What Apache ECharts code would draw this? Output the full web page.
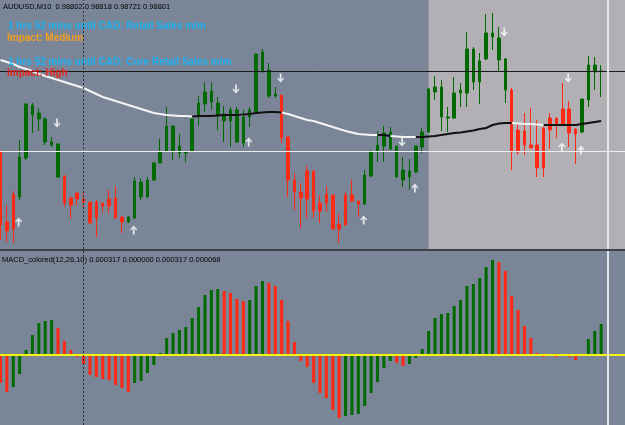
<!DOCTYPE html>
<html>
<head>
<meta charset="utf-8">
<script src="https://cdn.jsdelivr.net/npm/echarts@6/dist/echarts.min.js"></script>
<style>
  html, body { margin: 0; padding: 0; background: #7a8698; }
  #chart { width: 625px; height: 425px; }
</style>
</head>
<body>
<div id="chart"></div>
<script>
// price levels in pixel units above the bottom of the price panel
// each candle: [body low, body high, low, high]
const candles = [
  [25, 98, 10, 100], [19, 28, 8, 45], [21, 56, 7, 59], [53, 93, 50, 110], [92, 146, 90, 147],
  [135, 145, 117, 147], [131, 137, 119, 142], [108, 131, 105, 133], [105, 108, 103, 113], [73, 106, 72, 107],
  [47, 74, 43, 75], [45, 52, 31, 53], [51, 57, 44, 57], [48, 51, 43, 59], [27, 48, 27, 48],
  [32, 48, 13, 50], [44, 47, 38, 47], [44, 51, 37, 60], [32, 52, 31, 64], [28, 33, 17, 33],
  [28, 33, 27, 34], [32, 69, 31, 73], [53, 68, 50, 72], [53, 70, 52, 73], [70, 87, 69, 88],
  [87, 98, 87, 111], [99, 124, 99, 143], [99, 124, 90, 124], [97, 104, 92, 116], [97, 98, 88, 99],
  [99, 131, 99, 131], [133, 147, 124, 154], [146, 158, 138, 168], [148, 159, 140, 168], [135, 147, 120, 153],
  [129, 136, 108, 144], [129, 140, 103, 143], [108, 140, 107, 143], [107, 133, 103, 140], [133, 140, 123, 143],
  [138, 196, 138, 196], [178, 198, 178, 201], [154, 180, 152, 187], [154, 156, 152, 163], [112, 155, 107, 155],
  [70, 113, 53, 114], [58, 70, 40, 77], [52, 58, 22, 67], [51, 79, 32, 84], [39, 79, 32, 79],
  [39, 47, 27, 55], [47, 56, 38, 64], [21, 55, 20, 55], [21, 26, 7, 36], [25, 55, 24, 58],
  [49, 55, 48, 70], [46, 49, 33, 49], [46, 75, 45, 80], [74, 98, 73, 100], [98, 105, 88, 119],
  [104, 117, 88, 124], [101, 118, 100, 123], [73, 104, 72, 104], [70, 80, 63, 93], [73, 79, 60, 91],
  [78, 104, 77, 104], [103, 118, 97, 122], [118, 161, 117, 162], [158, 163, 150, 174], [133, 163, 119, 170],
  [132, 133, 118, 143], [132, 157, 131, 173], [157, 160, 143, 167], [157, 201, 143, 218], [168, 201, 160, 203],
  [168, 189, 146, 197], [191, 217, 190, 236], [213, 217, 200, 237], [190, 212, 178, 223], [160, 191, 147, 192],
  [98, 160, 80, 162], [98, 120, 95, 127], [105, 119, 95, 137], [102, 105, 102, 142], [82, 105, 73, 130],
  [82, 122, 73, 123], [120, 132, 101, 137], [125, 132, 112, 132], [125, 141, 125, 167], [117, 141, 103, 149],
  [116, 121, 86, 121], [118, 151, 117, 151], [150, 185, 143, 194], [178, 185, 160, 193], [179, 179, 153, 185]
];
// g = green, r = red
const candleColor = 'rrrgggggggrrrrrrrrrrggggggggggggggggggggggggrrrrrrrrrrrrrgggggggggggggggggggggggrrrrrrrrrrrgggg';

const maLevel = [
  190, 188, 186, 183, 181, 179, 176, 174, 172, 170,
  168, 166, 164, 162, 159, 156, 153, 151, 149, 147,
  145, 143, 141, 139, 137, 136, 135, 134.5, 134, 134,
  133.5, 134, 134, 134, 134.5, 135, 135, 135, 135.5, 136,
  137, 137.5, 138, 138, 137.5, 136, 134, 132, 130, 129,
  127, 125, 123, 121, 119, 117.5, 116, 115.5, 115, 115,
  115, 114, 113.5, 113, 113, 113, 113, 113.5, 114, 115,
  116, 117, 117.5, 118.5, 119.5, 121, 122, 125, 126.5, 127,
  127, 126.5, 126, 126, 125.5, 125, 125, 125, 125, 125,
  125, 126, 127, 128, 129
];
// colour of the segment that ends at each point: w = white, b = black
const maColor = 'wwwwwwwwwwwwwwwwwwwwwwwwwwwwwwwbbbbbbbwbbbbbbwwwwwwwwwwwwwwwbbwwwwbbbbbbbbbbbbbbbwwwwwbbbbwbbbb';

const arrowsUp = [[3, 28], [21, 20], [39, 108], [57, 30], [65, 62], [88, 103], [91, 100]];
const arrowsDown = [[9, 127], [37, 161], [44, 172], [63, 108], [79, 218], [89, 172]];

// MACD histogram, units of 0.00001
const macd = [
  -28, -37, -32, -19, 5, 20, 32, 34, 35, 27,
  14, 5, -2, -9, -20, -22, -24, -25, -30, -33,
  -37, -28, -26, -18, -10, 2, 17, 22, 25, 28,
  37, 48, 60, 65, 66, 64, 62, 56, 54, 55,
  69, 74, 72, 69, 55, 34, 13, -6, -12, -28,
  -38, -43, -55, -63, -61, -60, -59, -51, -38, -27,
  -13, -6, -8, -11, -9, -3, 6, 24, 37, 41,
  42, 49, 55, 69, 71, 77, 88, 95, 93, 84,
  59, 45, 29, 17, 2, -2, -1, -2, 1, -2,
  -5, 1, 16, 24, 31
];
const macdColor = 'rrgggggggrrrrrrrrrrrrggggggggggggggrrrrgggrrrrrrrrrrrrggggggggrrggggggggggggggrrrrrrrrgrgrrgggg';

const bidLevel = 179;
const hLineLevel = 99;
const daySeparator = 13;
const shiftBar = 95;
const sessionStart = 67;
const barCount = 99;
const categories = Array.from({ length: barCount }, (_, i) => String(i));

const titleText = 'AUDUSD,M10  0.98802 0.98818 0.98721 0.98801';
const news1 = '1 hrs 52 mins until CAD: Retail Sales m/m';
const news2 = '1 hrs 52 mins until CAD: Core Retail Sales m/m';
const macdText = 'MACD_colored(12,26,10) 0.000317 0.000000 0.000317 0.000068';

const GREEN = '#006a00';
const RED = '#ff2a14';

const candleData = candles.map((c, i) => {
  const col = candleColor[i] === 'g' ? GREEN : RED;
  return { value: c, itemStyle: { color: col, color0: col, borderColor: col, borderColor0: col } };
});
const maWhite = maLevel.map((v, i) => (maColor[i] === 'w' || maColor[i + 1] === 'w') ? v : null);
const maBlack = maLevel.map((v, i) => (maColor[i] === 'b' || maColor[i + 1] === 'b') ? v : null);
const macdData = macd.map((v, i) => ({ value: v, itemStyle: { color: macdColor[i] === 'g' ? GREEN : RED } }));

const arrowDownPath = 'path://M3,0 L5,0 L5,6 L7,4 L8,5 L4,9 L0,5 L1,4 L3,6 Z';
const arrowUpPath = 'path://M3,9 L5,9 L5,3 L7,5 L8,4 L4,0 L0,4 L1,5 L3,3 Z';

const chart = echarts.init(document.getElementById('chart'));
const vline = (xv, color, type) => ({
  silent: true, symbol: ['none', 'none'], label: { show: false },
  lineStyle: { color: color, width: 1, type: type }, data: [{ xAxis: xv }]
});

const option = {
  animation: false,
  backgroundColor: '#7a8698',
  grid: [
    { left: -2.7, right: -4.9, top: 0, height: 249, outerBoundsMode: 'none', containLabel: false },
    { left: -2.7, right: -4.9, top: 251, height: 174, outerBoundsMode: 'none', containLabel: false }
  ],
  xAxis: [
    { type: 'category', data: categories, gridIndex: 0, show: false },
    { type: 'category', data: categories, gridIndex: 1, show: false }
  ],
  yAxis: [
    { type: 'value', min: 1, max: 250, gridIndex: 0, show: false },
    { type: 'value', min: -70, max: 104, gridIndex: 1, show: false }
  ],
  graphic: [
    { type: 'rect', z: 50, shape: { x: 0, y: 249, width: 625, height: 2 }, style: { fill: '#3d4148' } },
    { type: 'text', z: 60, left: 3, top: 3, style: { text: titleText, fill: '#000', font: '7.5px "Liberation Sans"' } },
    { type: 'text', z: 60, left: 8, top: 21, style: { text: news1, fill: '#1cb2f2', font: 'bold 10px "Liberation Sans"' } },
    { type: 'text', z: 60, left: 7, top: 33, style: { text: 'Impact: Medium', fill: '#f4a01c', font: 'bold 10px "Liberation Sans"' } },
    { type: 'text', z: 60, left: 8, top: 57, style: { text: news2, fill: '#1cb2f2', font: 'bold 10px "Liberation Sans"' } },
    { type: 'text', z: 60, left: 7, top: 68, style: { text: 'Impact: High', fill: '#e8231c', font: 'bold 10px "Liberation Sans"' } },
    { type: 'text', z: 60, left: 2, top: 256, style: { text: macdText, fill: '#000', font: '7.5px "Liberation Sans"' } }
  ],
  series: [
    {
      name: 'session', type: 'line', data: [], z: 1,
      markArea: { silent: true, itemStyle: { color: '#b2b0b5' }, data: [[{ xAxis: sessionStart }, { xAxis: barCount - 1 }]] }
    },
    {
      name: 'price', type: 'candlestick', xAxisIndex: 0, yAxisIndex: 0, z: 2,
      barWidth: 3, itemStyle: { borderWidth: 1 }, data: candleData,
      markLine: vline(daySeparator, '#2a2d33', [2, 2])
    },
    {
      name: 'maWhite', type: 'line', data: maWhite, showSymbol: false, z: 3, connectNulls: false,
      lineStyle: { color: '#f4f4f4', width: 2 }
    },
    {
      name: 'maBlack', type: 'line', data: maBlack, showSymbol: false, z: 3, connectNulls: false,
      lineStyle: { color: '#111111', width: 2 }
    },
    {
      name: 'levels', type: 'line', data: [], z: 4,
      markLine: {
        silent: true, symbol: ['none', 'none'], label: { show: false },
        data: [
          { yAxis: bidLevel, lineStyle: { color: '#1a1a1a', width: 1, type: 'solid' } },
          { yAxis: hLineLevel, lineStyle: { color: '#eeeeee', width: 1, type: 'solid' } },
          { xAxis: shiftBar, lineStyle: { color: '#e6e6e6', width: 2, type: 'solid' } }
        ]
      }
    },
    {
      name: 'up', type: 'scatter', data: arrowsUp, z: 5, symbol: arrowUpPath, symbolSize: [7, 9],
      symbolOffset: [-1, 0], itemStyle: { color: '#ffffff' }, silent: true
    },
    {
      name: 'down', type: 'scatter', data: arrowsDown, z: 5, symbol: arrowDownPath, symbolSize: [7, 9],
      symbolOffset: [-1, 0], itemStyle: { color: '#ffffff' }, silent: true
    },
    {
      name: 'macd', type: 'bar', xAxisIndex: 1, yAxisIndex: 1, barWidth: 3, data: macdData, z: 2,
      markLine: {
        silent: true, symbol: ['none', 'none'], label: { show: false },
        data: [
          { yAxis: 0, lineStyle: { color: '#f4f40c', width: 2, type: 'solid' } },
          { xAxis: shiftBar, lineStyle: { color: '#e6e6e6', width: 2, type: 'solid' } },
          { xAxis: daySeparator, lineStyle: { color: '#2a2d33', width: 1, type: [2, 2] } }
        ]
      }
    }
  ]
};
chart.setOption(option);
</script>
</body>
</html>
